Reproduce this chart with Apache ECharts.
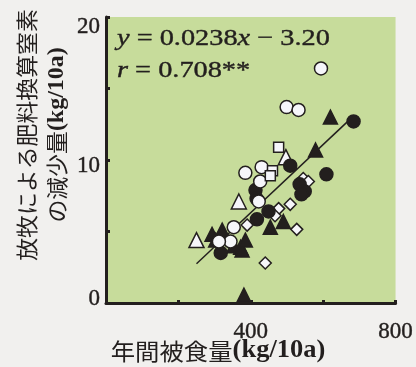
<!DOCTYPE html>
<html>
<head>
<meta charset="utf-8">
<script src="https://cdn.jsdelivr.net/npm/echarts@6/dist/echarts.min.js"></script>
<style>
  html, body { margin: 0; padding: 0; background: #f1f0ee; }
  #chart { width: 416px; height: 367px; }
</style>
</head>
<body>
<div id="chart"></div>
<script>
// Values: [annual grazed amount kg/10a, N reduction kg/10a]
const filledCircles = [
  [509, 9.6], [609, 9.0], [684, 12.7], [413, 7.9], [416, 7.3], [535, 8.3],
  [549, 7.8], [540, 7.6], [449, 6.4], [417, 5.85], [317, 3.5]
];
const openCircles = [
  [594, 16.4], [499, 13.7], [532, 13.5], [385, 9.1], [430, 9.5], [426, 8.5],
  [422, 7.1], [353, 5.3], [344, 4.3], [312, 4.3]
];
const filledTriangles = [
  [620, 13.0], [579, 10.7], [454, 5.3], [490, 5.7], [293, 4.8], [321, 5.1],
  [303, 4.4], [353, 4.0], [372, 3.9], [376, 3.7], [385, 4.4], [381, 0.55]
];
const openTriangles = [[497, 10.2], [367, 7.1], [250, 4.4]];
const openSquares = [[477, 10.9], [460, 9.25], [454, 8.9]];
const openDiamonds = [
  [545, 8.7], [559, 8.5], [509, 6.9], [477, 6.6], [467, 6.1], [390, 5.45],
  [527, 5.15], [440, 2.8]
];
// regression line y = 0.0238x - 3.20, end points
const fitLine = [[250, 2.75], [682, 13.03]];

const xTickLabels = ['400', '800'];
const yTickLabels = ['0', '10', '20'];

const ink = '#231f1e';
const paper = '#f6f6fa';

const chart = echarts.init(document.getElementById('chart'));

function scatter(data, symbol, size, filled) {
  return {
    type: 'scatter',
    data: data,
    symbol: symbol,
    symbolSize: size,
    z: 3,
    itemStyle: {
      color: filled ? ink : paper,
      borderColor: ink,
      borderWidth: 1.5,
      opacity: 1
    }
  };
}

const serifText = { fontFamily: 'Liberation Serif', fontSize: 23, color: ink, textBorderColor: ink, textBorderWidth: 0.4 };

const option = {
  backgroundColor: '#f1f0ee',
  animation: false,
  grid: {
    left: 106, right: 18, top: 17, bottom: 64,
    show: true,
    backgroundColor: '#c7dc9b',
    borderWidth: 0
  },
  xAxis: {
    type: 'value',
    min: 0, max: 800, interval: 200,
    splitLine: { show: false },
    axisLine: { lineStyle: { color: ink, width: 3 } },
    axisTick: { inside: true, length: 3, lineStyle: { color: ink, width: 3 } },
    axisLabel: Object.assign({
      margin: 17,
      formatter: v => xTickLabels.includes(String(v)) ? String(v) : ''
    }, serifText)
  },
  yAxis: {
    type: 'value',
    min: 0, max: 20, interval: 5,
    splitLine: { show: false },
    axisLine: { lineStyle: { color: ink, width: 3 } },
    axisTick: { inside: true, length: 4, lineStyle: { color: ink, width: 3 } },
    axisLabel: Object.assign({
      margin: 6,
      formatter: v => {
        const s = String(v);
        if (!yTickLabels.includes(s)) return '';
        return '{t' + s + '|' + s + '}';
      },
      rich: {
        t0: Object.assign({ padding: [0, 0, 8, 0] }, serifText),
        t10: Object.assign({ padding: [12, 0, 0, 0] }, serifText),
        t20: Object.assign({ padding: [20, 0, 0, 0] }, serifText)
      }
    }, serifText)
  },
  graphic: [
    {
      type: 'text', x: 117, y: 39, scaleX: 1.18, z: 10,
      style: {
        text: '{i|y} = 0.0238{i|x} \u2212 3.20',
        fill: ink, stroke: ink, lineWidth: 0.4,
        fontFamily: 'Liberation Serif', fontSize: 24,
        align: 'left', verticalAlign: 'middle',
        rich: { i: { fontFamily: 'Liberation Serif', fontSize: 24, fontStyle: 'italic', fill: ink, stroke: ink, lineWidth: 0.4 } }
      }
    },
    {
      type: 'text', x: 117, y: 71, scaleX: 1.18, z: 10,
      style: {
        text: '{i|r} = 0.708**',
        fill: ink, stroke: ink, lineWidth: 0.4,
        fontFamily: 'Liberation Serif', fontSize: 24,
        align: 'left', verticalAlign: 'middle',
        rich: { i: { fontFamily: 'Liberation Serif', fontSize: 24, fontStyle: 'italic', fill: ink, stroke: ink, lineWidth: 0.4 } }
      }
    },
    {
      type: 'text', x: 218, y: 351, scaleX: 1.06, z: 10,
      style: {
        text: '{c|年間被食量}{l|(kg/10a)}',
        fill: ink,
        align: 'center', verticalAlign: 'middle',
        rich: {
          c: { fontFamily: 'Noto Sans CJK JP', fontSize: 23, fill: ink },
          l: { fontFamily: 'Liberation Serif', fontSize: 25, fontWeight: 'bold', fill: ink }
        }
      }
    },
    {
      type: 'text', x: 42, y: 135, rotation: Math.PI / 2, scaleX: 1.04, z: 10,
      style: {
        text: '{c|放牧による肥料換算窒素}\n{c|の減少量}{l|(kg/10a)}',
        fill: ink,
        align: 'center', verticalAlign: 'middle',
        rich: {
          c: { fontFamily: 'Noto Sans CJK JP', fontSize: 22, lineHeight: 30, fill: ink },
          l: { fontFamily: 'Liberation Serif', fontSize: 23, fontWeight: 'bold', lineHeight: 30, fill: ink }
        }
      }
    }
  ],
  series: [
    {
      type: 'line',
      data: fitLine,
      symbol: 'none',
      z: 2,
      lineStyle: { color: ink, width: 1.5 }
    },
    scatter(openTriangles, 'triangle', 15, false),
    scatter(openDiamonds, 'diamond', 12, false),
    scatter(filledTriangles, 'triangle', 14, true),
    scatter(filledCircles, 'circle', 13, true),
    scatter(openCircles, 'circle', 13, false),
    scatter(openSquares, 'rect', 10, false)
  ]
};

chart.setOption(option);
</script>
</body>
</html>
